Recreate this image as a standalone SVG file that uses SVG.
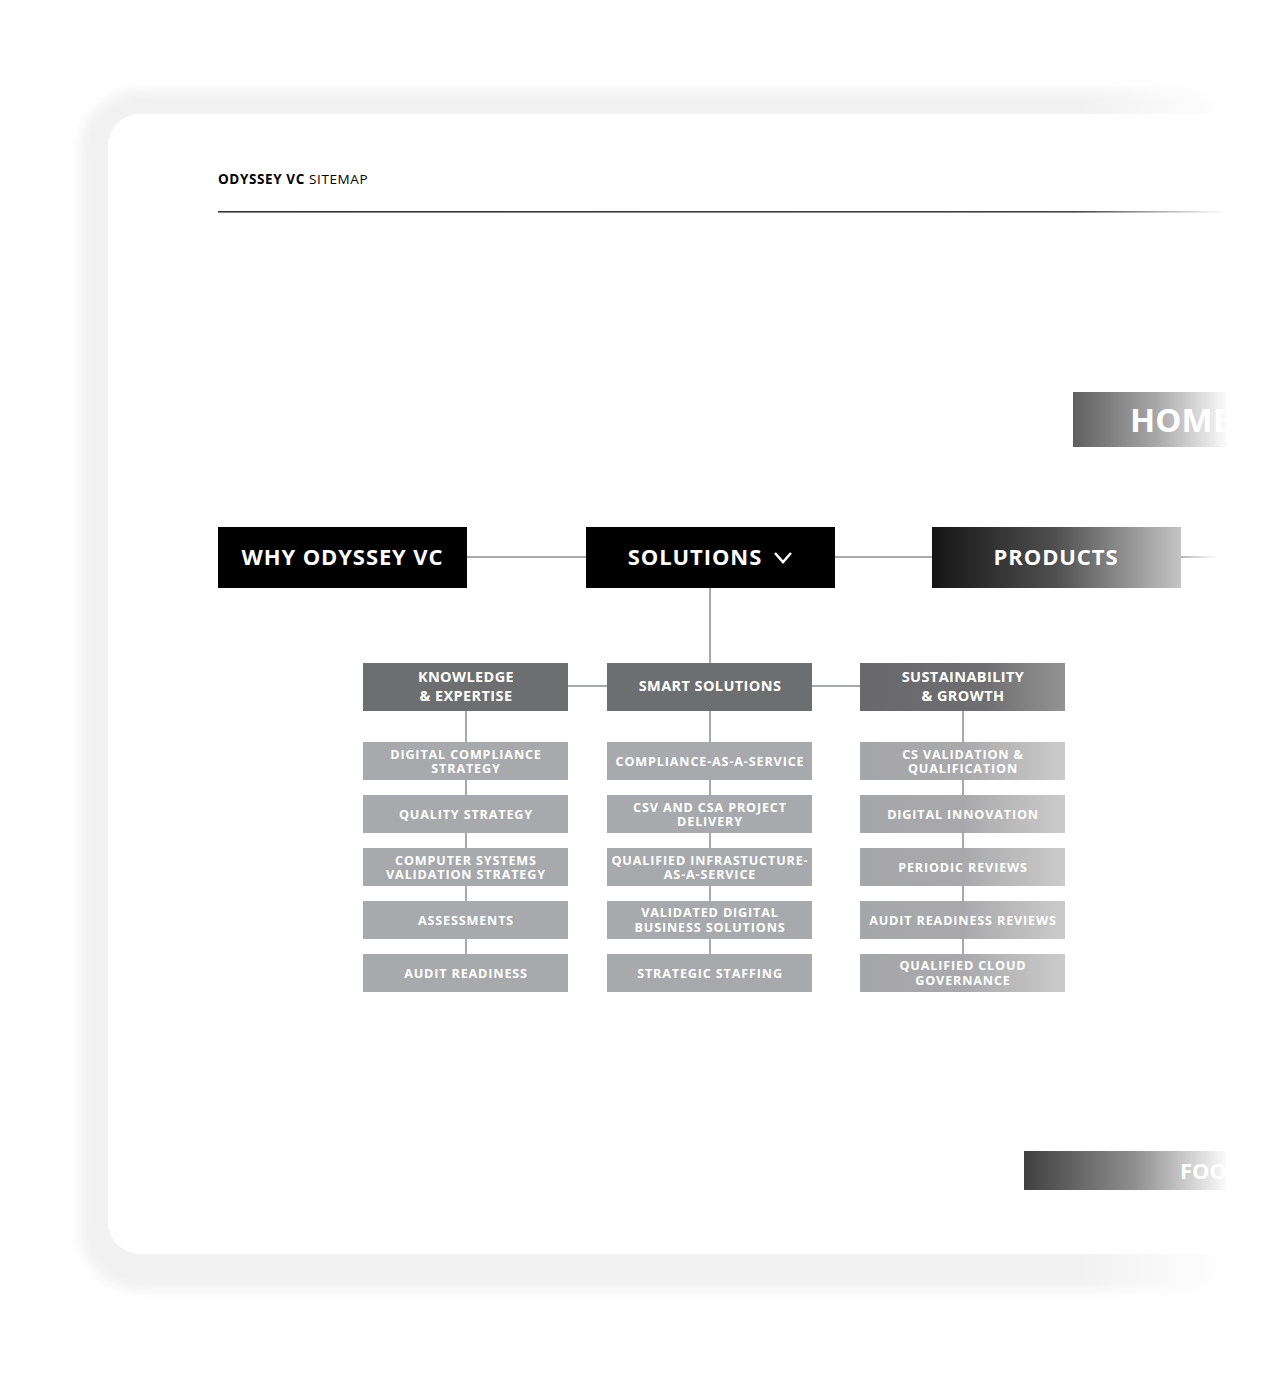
<svg xmlns="http://www.w3.org/2000/svg" width="1281" height="1381" viewBox="0 0 1281 1381">
<defs>
<style>
.t{font-family:"Open Sans","Liberation Sans",sans-serif;font-weight:700;fill:#fff;text-anchor:middle}
.l1{font-size:22px;letter-spacing:0.9px}
.l2{font-size:14.5px;letter-spacing:0.4px}
.l3{font-size:12.6px;letter-spacing:0.85px}
.c{stroke:#a8a9ab;stroke-width:2;fill:none}
</style>
<filter id="blur" x="-10%" y="-10%" width="120%" height="120%"><feGaussianBlur stdDeviation="6"/></filter>
<linearGradient id="fadeW" x1="0" x2="1"><stop offset="0" stop-color="#fff" stop-opacity="0"/><stop offset="1" stop-color="#fff" stop-opacity="1"/></linearGradient>
<linearGradient id="gLine" gradientUnits="userSpaceOnUse" x1="218" x2="1226" y1="0" y2="0"><stop offset="0" stop-color="#333"/><stop offset="0.85" stop-color="#444"/><stop offset="1" stop-color="#fff"/></linearGradient>
<linearGradient id="gHome" gradientUnits="userSpaceOnUse" x1="1073" x2="1226" y1="0" y2="0"><stop offset="0" stop-color="#5f5f5f"/><stop offset="0.55" stop-color="#a8a8a8"/><stop offset="1" stop-color="#fafafa"/></linearGradient>
<linearGradient id="gProd" gradientUnits="userSpaceOnUse" x1="932" x2="1181" y1="0" y2="0"><stop offset="0" stop-color="#151515"/><stop offset="0.5" stop-color="#505050"/><stop offset="1" stop-color="#c4c4c4"/></linearGradient>
<linearGradient id="gFoot" gradientUnits="userSpaceOnUse" x1="1024" x2="1226" y1="0" y2="0"><stop offset="0" stop-color="#404040"/><stop offset="0.55" stop-color="#8f8f8f"/><stop offset="1" stop-color="#fafafa"/></linearGradient>
<linearGradient id="gSus" gradientUnits="userSpaceOnUse" x1="860" x2="1065" y1="0" y2="0"><stop offset="0" stop-color="#69696b"/><stop offset="0.6" stop-color="#6e6e70"/><stop offset="1" stop-color="#939393"/></linearGradient>
<linearGradient id="gSus3" gradientUnits="userSpaceOnUse" x1="860" x2="1065" y1="0" y2="0"><stop offset="0" stop-color="#a5a6a9"/><stop offset="0.5" stop-color="#a9a9ab"/><stop offset="1" stop-color="#cbcbcb"/></linearGradient>
<linearGradient id="gPL" gradientUnits="userSpaceOnUse" x1="1181" x2="1218" y1="0" y2="0"><stop offset="0" stop-color="#b8b8b8"/><stop offset="1" stop-color="#fff"/></linearGradient>
<clipPath id="cut"><rect x="0" y="0" width="1226" height="1381"/></clipPath>
</defs>
<rect width="1281" height="1381" fill="#fff"/>
<g id="card">
<rect x="80" y="90" width="1160" height="1200" rx="60" fill="#f1f1f1" filter="url(#blur)"/>
<rect x="108" y="114" width="1140" height="1140" rx="32" fill="#fff"/>
<rect x="1080" y="70" width="150" height="60" fill="url(#fadeW)"/>
<rect x="1080" y="1240" width="150" height="70" fill="url(#fadeW)"/>
<rect x="1226" y="0" width="55" height="1381" fill="#fff"/>
</g>
<g id="header">
<text x="218" y="184" font-family="'Open Sans','Liberation Sans',sans-serif" font-size="13.5" letter-spacing="0.6" fill="#000"><tspan font-weight="700">ODYSSEY VC</tspan> SITEMAP</text>
<rect x="218" y="211" width="1008" height="1.6" fill="url(#gLine)"/>
</g>
<g id="connectors">
<line class="c" x1="467" y1="557" x2="586" y2="557"/>
<line class="c" x1="835" y1="557" x2="932" y2="557"/>
<rect x="1181" y="556" width="37" height="2" fill="url(#gPL)"/>
<line class="c" x1="710" y1="588" x2="710" y2="663"/>
<line class="c" x1="568" y1="686" x2="607" y2="686"/>
<line class="c" x1="812" y1="686" x2="860" y2="686"/>
<line class="c" x1="466" y1="711" x2="466" y2="954"/>
<line class="c" x1="710" y1="711" x2="710" y2="954"/>
<line class="c" x1="963" y1="711" x2="963" y2="954"/>
</g>
<g id="home" clip-path="url(#cut)">
<rect x="1073" y="392" width="153" height="55" fill="url(#gHome)"/>
<text x="1130" y="432" font-family="'Open Sans','Liberation Sans',sans-serif" font-weight="700" font-size="33" fill="#fff">HOME</text>
</g>
<g id="why">
<rect x="218" y="527" width="249" height="61" fill="#000"/>
<text class="t l1" x="342.5" y="565">WHY ODYSSEY VC</text>
</g>
<g id="solutions">
<rect x="586" y="527" width="249" height="61" fill="#000"/>
<text class="t l1" x="695" y="565">SOLUTIONS</text>
<polyline points="775,553 783,562 791,553" fill="none" stroke="#fff" stroke-width="2.5"/>
</g>
<g id="products">
<rect x="932" y="527" width="249" height="61" fill="url(#gProd)"/>
<text class="t l1" x="1056" y="565">PRODUCTS</text>
</g>
<g id="knowledge">
<rect x="363" y="663" width="205" height="48" fill="#6d6e70"/>
<text class="t l2" x="466" y="682">KNOWLEDGE</text>
<text class="t l2" x="466" y="701">&amp; EXPERTISE</text>
</g>
<g id="smart">
<rect x="607" y="663" width="205" height="48" fill="#6d6e70"/>
<text class="t l2" x="710" y="691">SMART SOLUTIONS</text>
</g>
<g id="sustainability">
<rect x="860" y="663" width="205" height="48" fill="url(#gSus)"/>
<text class="t l2" x="963" y="682">SUSTAINABILITY</text>
<text class="t l2" x="963" y="701">&amp; GROWTH</text>
</g>
<g id="k1"><rect x="363" y="742" width="205" height="38" fill="#a7a9ac"/><text class="t l3" x="466" y="759">DIGITAL COMPLIANCE</text><text class="t l3" x="466" y="773">STRATEGY</text></g>
<g id="k2"><rect x="363" y="795" width="205" height="38" fill="#a7a9ac"/><text class="t l3" x="466" y="819">QUALITY STRATEGY</text></g>
<g id="k3"><rect x="363" y="848" width="205" height="38" fill="#a7a9ac"/><text class="t l3" x="466" y="865">COMPUTER SYSTEMS</text><text class="t l3" x="466" y="879">VALIDATION STRATEGY</text></g>
<g id="k4"><rect x="363" y="901" width="205" height="38" fill="#a7a9ac"/><text class="t l3" x="466" y="925">ASSESSMENTS</text></g>
<g id="k5"><rect x="363" y="954" width="205" height="38" fill="#a7a9ac"/><text class="t l3" x="466" y="978">AUDIT READINESS</text></g>
<g id="s1"><rect x="607" y="742" width="205" height="38" fill="#a7a9ac"/><text class="t l3" x="710" y="766">COMPLIANCE-AS-A-SERVICE</text></g>
<g id="s2"><rect x="607" y="795" width="205" height="38" fill="#a7a9ac"/><text class="t l3" x="710" y="812">CSV AND CSA PROJECT</text><text class="t l3" x="710" y="826">DELIVERY</text></g>
<g id="s3"><rect x="607" y="848" width="205" height="38" fill="#a7a9ac"/><text class="t l3" x="710" y="865">QUALIFIED INFRASTUCTURE-</text><text class="t l3" x="710" y="879">AS-A-SERVICE</text></g>
<g id="s4"><rect x="607" y="901" width="205" height="38" fill="#a7a9ac"/><text class="t l3" x="710" y="917">VALIDATED DIGITAL</text><text class="t l3" x="710" y="932">BUSINESS SOLUTIONS</text></g>
<g id="s5"><rect x="607" y="954" width="205" height="38" fill="#a7a9ac"/><text class="t l3" x="710" y="978">STRATEGIC STAFFING</text></g>
<g id="g1"><rect x="860" y="742" width="205" height="38" fill="url(#gSus3)"/><text class="t l3" x="963" y="759">CS VALIDATION &amp;</text><text class="t l3" x="963" y="773">QUALIFICATION</text></g>
<g id="g2"><rect x="860" y="795" width="205" height="38" fill="url(#gSus3)"/><text class="t l3" x="963" y="819">DIGITAL INNOVATION</text></g>
<g id="g3"><rect x="860" y="848" width="205" height="38" fill="url(#gSus3)"/><text class="t l3" x="963" y="872">PERIODIC REVIEWS</text></g>
<g id="g4"><rect x="860" y="901" width="205" height="38" fill="url(#gSus3)"/><text class="t l3" x="963" y="925">AUDIT READINESS REVIEWS</text></g>
<g id="g5"><rect x="860" y="954" width="205" height="38" fill="url(#gSus3)"/><text class="t l3" x="963" y="970">QUALIFIED CLOUD</text><text class="t l3" x="963" y="985">GOVERNANCE</text></g>
<g id="footer" clip-path="url(#cut)">
<rect x="1024" y="1151" width="202" height="39" fill="url(#gFoot)"/>
<text x="1180" y="1179" font-family="'Open Sans','Liberation Sans',sans-serif" font-weight="700" font-size="22" fill="#fff">FOOTER</text>
</g>
</svg>
